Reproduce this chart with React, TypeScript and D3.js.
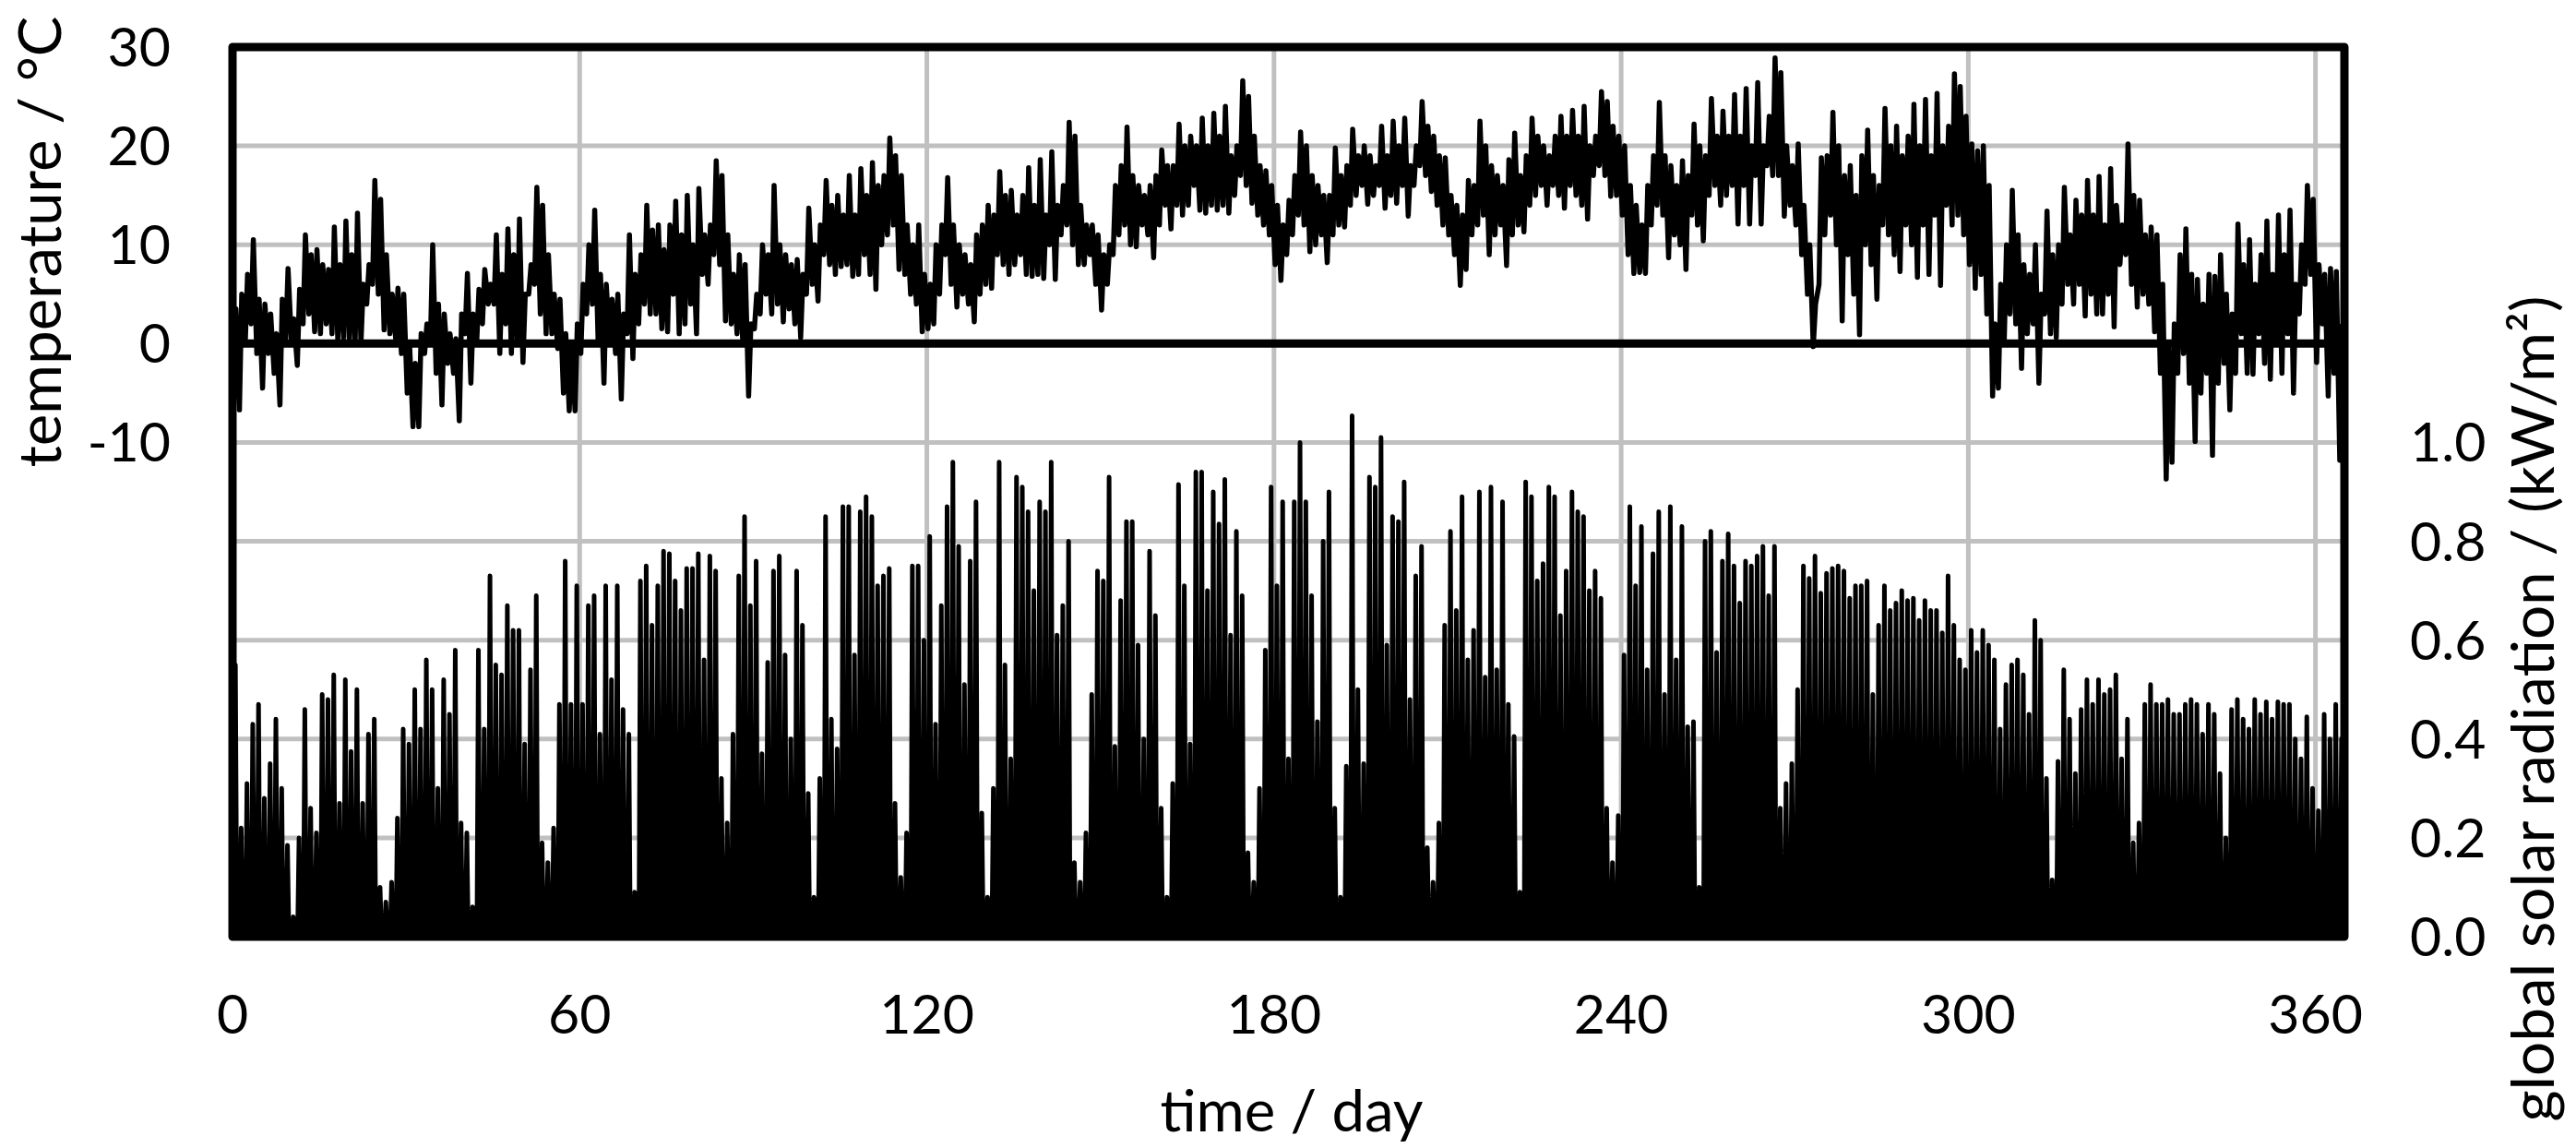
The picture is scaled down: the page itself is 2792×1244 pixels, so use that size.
import React, { useEffect, useRef } from "react";
import * as d3 from "d3";

// daily temperature (°C): night low and afternoon high
const tempLow = [
  -6.5, -6.7, 0, 2, -1, -4.5, -1, -3, -6.2, 0.5,
  0, -2.2, 2, 3, 1.2, 1, 2, 1, 0.3, 0.5,
  0.2, 0, 0, 4, 6, 5, 1.4, 1, 0.5, -1,
  -5, -8.4, -8.4, -1, 0, -3, -6.2, -2, -3, -7.8,
  1, -4, 0, 2, 4, 4, -1, 2, -1, 0,
  -1.9, 5, 6, 3, 1, 1, -0.5, -5, -6.8, -6.8,
  -1, 3, 4, 0, -4, 0, -1, -5.6, 1, -1.5,
  2, 4, 3, 3, 1.5, 1.2, 5, 1, 2, 4,
  1, 7, 6, 9, 8, 2.3, 2, 1, 0, -5.3,
  1.5, 3, 5, 3, 4, 2.2, 3.5, 2, 0.6, 5,
  6, 4.3, 9, 8, 7, 7.8, 8, 6.8, 7, 9,
  7, 5.5, 10, 11, 12, 7.5, 7, 5, 4, 1.2,
  1.5, 2, 5, 9, 6, 3.7, 5, 4, 2.2, 5,
  6, 5.6, 9, 8, 7, 8, 9, 7, 6.8, 7,
  6.6, 10, 6.5, 11, 12, 10, 8, 8, 9, 6,
  3.4, 6, 9, 11, 12, 10, 9.8, 12, 11, 8.7,
  12, 14, 11.6, 14, 13, 14, 16, 13.5, 13.2, 14,
  13.5, 14, 13.2, 15, 17, 16, 14.2, 13, 12, 11,
  8, 6.4, 9, 11, 13, 12, 9.3, 10, 11, 8.2,
  11, 12, 11.8, 14, 15, 16, 14.1, 15, 16, 13.7,
  15, 14.2, 16, 12.9, 16, 18, 17, 15.4, 14, 12,
  11, 9, 5.9, 7.5, 11, 12, 13, 9, 11, 12,
  7.9, 11, 12, 11.3, 14, 15, 16, 14, 16, 15,
  13.7, 16, 15, 14, 12.6, 17, 18, 17, 14.9, 15,
  13, 9, 7.1, 7.2, 7.1, 12, 14, 13, 8.7, 11,
  10, 7.5, 13, 12, 10.4, 15, 16, 14, 15, 16,
  12.1, 16, 12.1, 17, 12.1, 18, 17, 17, 12.9, 14,
  12, 9, 5, -0.3, 6, 11, 13, 10, 2.3, 9,
  5, 0.9, 10, 8, 4.5, 12, 11, 9, 7.3, 12,
  10, 6.7, 12, 7, 13, 5.9, 14, 12, 13, 11,
  8, 5.6, 7, 3, -5.3, -4.5, 0, 3, 2, -2.5,
  1, 2, -4, 3, 1, 0.6, 4, 6, 4, 6,
  2.8, 5, 3, 3, 5, 1.7, 8, 9, 6, 3.7,
  5, 4, 1.2, -3, -13.7, -12, -3, -1, -4, -9.9,
  -5, -3, -11.3, -4, -2, -6.7, -3, 1, -3, -3.1,
  1, -2, -3.6, 0, -3, 1, -5, 3, 6, 7,
  -1.9, 2, -5.3, -3, -11.8,
];

const tempHigh = [
  3.5, 5, 7, 10.5, 4.5, 4, 3, 1, 4.5, 7.6,
  2.5, 5.5, 11, 9, 9.5, 8, 7.5, 11.8, 8, 12.4,
  9, 13.2, 6, 8, 16.5, 14.6, 9, 5, 5.6, 5,
  0, -2, 1, 2, 10, 4, 3, 1, 0.5, 3,
  7.1, 3, 5.5, 7.5, 6, 11, 7, 11.6, 9, 12.6,
  5, 8, 15.8, 14, 9, 5, 4.5, 1, 0, 2,
  6, 10, 13.5, 7, 6, 4.5, 5, 3, 11, 7,
  9, 14, 11.5, 12, 9.5, 12, 14.4, 11, 15, 10,
  15.7, 11, 12, 18.5, 17, 11, 7, 9, 8, 2,
  5, 10, 9, 16, 10, 9, 8, 8.5, 7, 13.7,
  10, 12, 16.5, 14, 15, 13, 17, 13, 17.7, 15,
  18.3, 16, 17, 20.8, 19, 17, 12, 10, 12, 7,
  6, 10, 12, 16.8, 12, 10, 9, 8, 11, 12,
  14, 13, 17.4, 15, 15.5, 13, 15, 17.8, 14, 18.6,
  13, 19.4, 14, 16, 22.4, 21, 14, 12, 12, 11,
  9, 10, 16, 18, 21.9, 17, 16, 15, 16, 17,
  19.6, 18, 18, 22.2, 20, 21, 20, 22.8, 20, 23.3,
  21, 24, 19, 20, 26.6, 25, 21, 18, 17.5, 16,
  14, 12, 14.5, 17, 21.4, 20, 17, 16, 15, 15,
  19.8, 17, 18, 21.7, 19, 20, 19, 18, 22, 19,
  22.5, 20, 22.8, 18, 20, 24.5, 22, 21, 19, 18.8,
  15, 14, 13, 16.5, 16, 22.5, 20, 18, 17, 16,
  18.6, 21.3, 17, 19, 22.8, 21, 20, 19, 21, 23,
  21, 23.6, 21, 24, 20, 21, 25.5, 24.5, 22, 21,
  20, 16, 14, 12, 16, 19, 24.4, 19, 18, 16,
  18.5, 17, 22.2, 20, 19, 24.8, 21, 23.5, 21, 25.2,
  21, 25.8, 20, 26.4, 20, 23, 28.9, 27.4, 20, 18,
  20.2, 14, 10, 4, 18.8, 19, 23.4, 20, 17, 18,
  15, 19, 21.6, 17, 16, 23.8, 20, 22, 19, 21,
  24.2, 20, 24.7, 19, 25.3, 20, 22, 27.3, 26, 23,
  20.2, 19.5, 20, 16, 2, 6, 10, 15.5, 11, 8,
  7, 10, 5, 13.4, 9, 10, 15.8, 11, 14.5, 13,
  16.5, 13, 16.9, 12, 17.7, 14, 12, 20.2, 15, 14.5,
  11, 11.8, 11, 6, 0, 2, 9, 11.6, 7, 6.5,
  4, 7, 6.8, 9, 5, 3, 12.1, 8, 10.5, 6,
  9, 12.4, 7, 13, 9, 13.5, 6, 10, 16, 14.6,
  8, 7, 7.6, 7.3, 2,
];

// daily peak of global solar radiation (kW/m²)
const radPeak = [
  0.55, 0.22, 0.31, 0.43, 0.47, 0.28, 0.35, 0.44, 0.3, 0.185,
  0.04, 0.2, 0.46, 0.26, 0.21, 0.49, 0.48, 0.53, 0.27, 0.52,
  0.375, 0.5, 0.27, 0.41, 0.44, 0.1, 0.07, 0.11, 0.24, 0.42,
  0.39, 0.5, 0.42, 0.56, 0.5, 0.3, 0.52, 0.45, 0.58, 0.23,
  0.21, 0.06, 0.58, 0.42, 0.73, 0.55, 0.53, 0.67, 0.62, 0.62,
  0.39, 0.54, 0.69, 0.19, 0.15, 0.22, 0.47, 0.76, 0.47, 0.71,
  0.47, 0.67, 0.69, 0.41, 0.71, 0.52, 0.71, 0.46, 0.41, 0.09,
  0.72, 0.75, 0.63, 0.71, 0.78, 0.775, 0.72, 0.66, 0.745, 0.745,
  0.775, 0.56, 0.77, 0.74, 0.32, 0.23, 0.41, 0.73, 0.85, 0.67,
  0.76, 0.37, 0.555, 0.74, 0.77, 0.57, 0.4, 0.74, 0.63, 0.29,
  0.08, 0.32, 0.85, 0.44, 0.38, 0.87, 0.87, 0.57, 0.86, 0.89,
  0.85, 0.71, 0.73, 0.745, 0.27, 0.12, 0.21, 0.75, 0.75, 0.6,
  0.81, 0.43, 0.67, 0.87, 0.96, 0.79, 0.51, 0.76, 0.88, 0.25,
  0.08, 0.3, 0.96, 0.55, 0.36, 0.93, 0.91, 0.86, 0.7, 0.88,
  0.86, 0.96, 0.61, 0.67, 0.8, 0.15, 0.11, 0.21, 0.49, 0.74,
  0.72, 0.93, 0.385, 0.68, 0.84, 0.84, 0.59, 0.4, 0.78, 0.65,
  0.26, 0.08, 0.31, 0.915, 0.71, 0.39, 0.94, 0.94, 0.7, 0.9,
  0.835, 0.925, 0.61, 0.82, 0.69, 0.17, 0.11, 0.3, 0.58, 0.91,
  0.71, 0.88, 0.36, 0.88, 1.0, 0.88, 0.69, 0.435, 0.8, 0.9,
  0.26, 0.08, 0.345, 1.054, 0.5, 0.35, 0.93, 0.91, 1.01, 0.59,
  0.85, 0.84, 0.92, 0.48, 0.73, 0.79, 0.18, 0.11, 0.23, 0.63,
  0.82, 0.66, 0.89, 0.56, 0.62, 0.9, 0.525, 0.91, 0.54, 0.88,
  0.47, 0.405, 0.09, 0.92, 0.89, 0.72, 0.755, 0.91, 0.89, 0.65,
  0.74, 0.9, 0.86, 0.85, 0.7, 0.74, 0.685, 0.26, 0.15, 0.245,
  0.57, 0.87, 0.71, 0.83, 0.54, 0.775, 0.86, 0.49, 0.87, 0.56,
  0.83, 0.425, 0.435, 0.1, 0.8, 0.82, 0.575, 0.76, 0.815, 0.75,
  0.675, 0.76, 0.75, 0.77, 0.79, 0.69, 0.79, 0.26, 0.31, 0.35,
  0.5, 0.75, 0.725, 0.77, 0.695, 0.735, 0.745, 0.75, 0.74, 0.685,
  0.71, 0.71, 0.72, 0.49, 0.63, 0.71, 0.66, 0.675, 0.7, 0.68,
  0.685, 0.64, 0.68, 0.66, 0.66, 0.615, 0.73, 0.63, 0.56, 0.54,
  0.62, 0.575, 0.62, 0.59, 0.56, 0.42, 0.51, 0.55, 0.56, 0.53,
  0.45, 0.64, 0.6, 0.32, 0.115, 0.355, 0.54, 0.44, 0.33, 0.46,
  0.52, 0.47, 0.52, 0.49, 0.5, 0.53, 0.36, 0.44, 0.19, 0.23,
  0.47, 0.51, 0.47, 0.47, 0.48, 0.45, 0.45, 0.47, 0.48, 0.47,
  0.41, 0.47, 0.45, 0.33, 0.2, 0.46, 0.48, 0.44, 0.42, 0.48,
  0.45, 0.475, 0.44, 0.475, 0.47, 0.47, 0.4, 0.36, 0.445, 0.3,
  0.255, 0.45, 0.4, 0.47, 0.4,
];

const dayTicks = [0, 60, 120, 180, 240, 300, 360];
const tempTicks = [30, 20, 10, 0, -10];
const radTicks = [0, 0.2, 0.4, 0.6, 0.8, 1.0];
const tempGrid = [20, 10, -10, -20, -30, -40, -50];

const App = () => {
  const svgRef = useRef(null);

  useEffect(() => {
    const width = 2792;
    const height = 1244;
    const plot = { left: 252, right: 2541, top: 51, bottom: 1015 };
    const font = "Lato, 'Open Sans', sans-serif";

    const svg = d3.select(svgRef.current)
      .attr("width", width)
      .attr("height", height)
      .style("position", "absolute")
      .style("left", 0)
      .style("top", 0)
      .style("background", "#fff");
    svg.selectAll("*").remove();

    const x = d3.scaleLinear().domain([0, 365]).range([plot.left, plot.right]);
    const yT = d3.scaleLinear().domain([-60, 30]).range([plot.bottom, plot.top]);
    const yR = d3.scaleLinear().domain([0, 1.8]).range([plot.bottom, plot.top]);

    svg.append("defs").append("clipPath").attr("id", "plotClip")
      .append("rect")
      .attr("x", plot.left).attr("y", plot.top)
      .attr("width", plot.right - plot.left).attr("height", plot.bottom - plot.top);

    // grid
    const grid = svg.append("g").attr("stroke", "#c0c0c0").attr("stroke-width", 5);
    grid.selectAll("line.h").data(tempGrid).join("line")
      .attr("x1", plot.left).attr("x2", plot.right)
      .attr("y1", d => yT(d)).attr("y2", d => yT(d));
    grid.selectAll("line.v").data(dayTicks.slice(1)).join("line")
      .attr("x1", d => x(d)).attr("x2", d => x(d))
      .attr("y1", plot.top).attr("y2", plot.bottom);

    const body = svg.append("g").attr("clip-path", "url(#plotClip)");

    // radiation: zero at night, daily peak around noon
    const rad = radPeak.flatMap((p, d) => [[d + 0.25, 0], [d + 0.5, p], [d + 0.75, 0]]);
    body.append("path")
      .datum(rad)
      .attr("fill", "#000")
      .attr("d", d3.area().x(d => x(d[0])).y0(yR(0)).y1(d => yR(d[1])));
    body.append("path")
      .datum(rad)
      .attr("fill", "none")
      .attr("stroke", "#000")
      .attr("stroke-width", 5)
      .attr("stroke-linejoin", "round")
      .attr("d", d3.line().x(d => x(d[0])).y(d => yR(d[1])));

    // zero line
    body.append("line")
      .attr("x1", plot.left).attr("x2", plot.right)
      .attr("y1", yT(0)).attr("y2", yT(0))
      .attr("stroke", "#000").attr("stroke-width", 9);

    // temperature
    const temp = tempLow.flatMap((lo, d) => [[d + 0.2, lo], [d + 0.6, tempHigh[d]]]);
    body.append("path")
      .datum(temp)
      .attr("fill", "none")
      .attr("stroke", "#000")
      .attr("stroke-width", 5.5)
      .attr("stroke-linejoin", "round")
      .attr("d", d3.line().x(d => x(d[0])).y(d => yT(d[1])));

    // frame
    svg.append("rect")
      .attr("x", plot.left).attr("y", plot.top)
      .attr("width", plot.right - plot.left).attr("height", plot.bottom - plot.top)
      .attr("fill", "none").attr("stroke", "#000").attr("stroke-width", 9)
      .attr("stroke-linejoin", "round");

    // tick labels
    const labels = svg.append("g").attr("font-family", font).attr("font-size", 59).attr("fill", "#000");
    labels.selectAll("text.t").data(tempTicks).join("text")
      .attr("x", 185).attr("y", d => yT(d) + 21)
      .attr("text-anchor", "end")
      .text(d => d);
    labels.selectAll("text.r").data(radTicks).join("text")
      .attr("x", 2612).attr("y", d => yR(d) + 21)
      .attr("text-anchor", "start")
      .text(d => d3.format(".1f")(d));
    labels.selectAll("text.x").data(dayTicks).join("text")
      .attr("x", d => x(d)).attr("y", 1120)
      .attr("text-anchor", "middle")
      .text(d => d);

    // axis titles
    const titles = svg.append("g").attr("font-family", font).attr("font-size", 64).attr("fill", "#000");
    titles.append("text")
      .attr("transform", "translate(66,262) rotate(-90)")
      .attr("text-anchor", "middle")
      .attr("textLength", 489).attr("lengthAdjust", "spacingAndGlyphs")
      .text("temperature / °C");
    titles.append("text")
      .attr("transform", "translate(2768,768) rotate(-90)")
      .attr("text-anchor", "middle")
      .attr("textLength", 895).attr("lengthAdjust", "spacingAndGlyphs")
      .text("global solar radiation / (kW/m²)");
    titles.append("text")
      .attr("x", 1400).attr("y", 1226)
      .attr("font-size", 62)
      .attr("text-anchor", "middle")
      .attr("textLength", 285).attr("lengthAdjust", "spacingAndGlyphs")
      .text("time / day");
  }, []);

  return <svg ref={svgRef}></svg>;
};

export default App;
